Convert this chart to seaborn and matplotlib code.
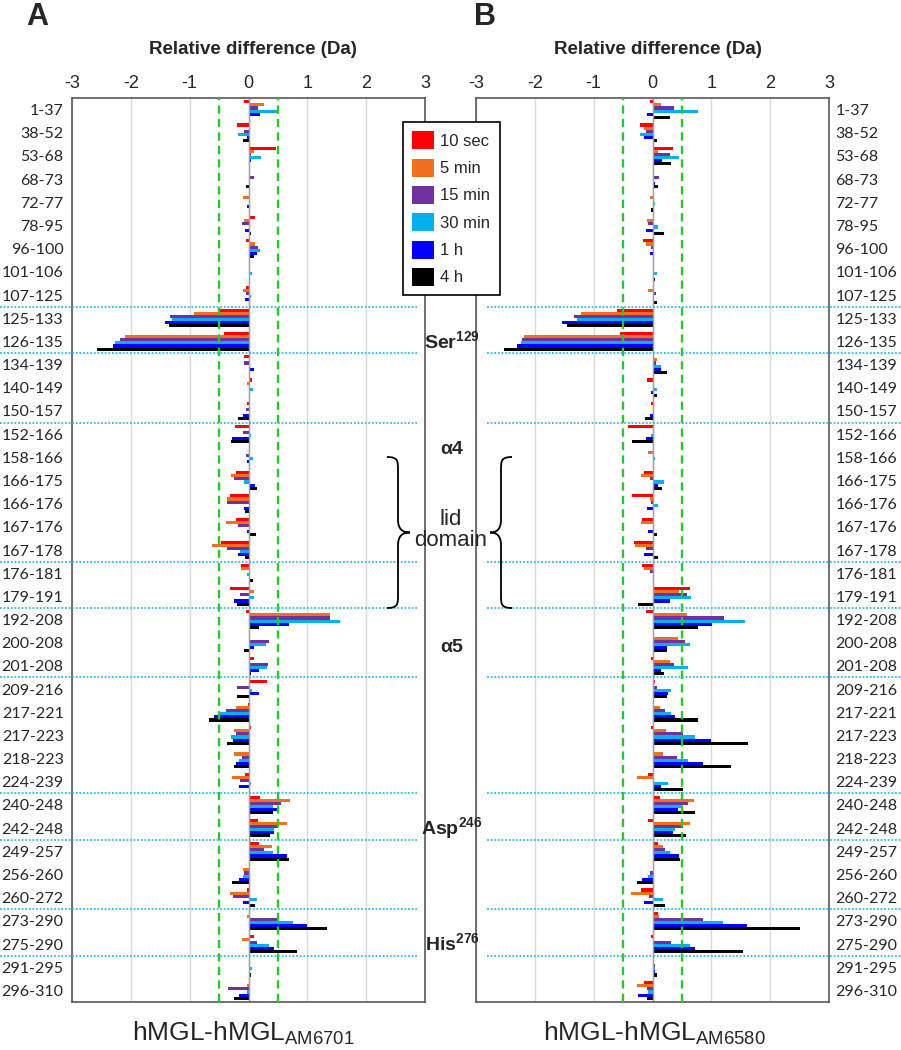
import pandas as pd
import matplotlib
matplotlib.use("Agg")
import matplotlib.pyplot as plt
import matplotlib.transforms as mtransforms
from matplotlib.path import Path
from matplotlib.patches import PathPatch, Patch
import seaborn as sns

# peptides (top to bottom)
peptides = ["1-37", "38-52", "53-68", "68-73", "72-77", "78-95", "96-100",
            "101-106", "107-125", "125-133", "126-135", "134-139", "140-149",
            "150-157", "152-166", "158-166", "166-175", "166-176", "167-176",
            "167-178", "176-181", "179-191", "192-208", "200-208", "201-208",
            "209-216", "217-221", "217-223", "218-223", "224-239", "240-248",
            "242-248", "249-257", "256-260", "260-272", "273-290", "275-290",
            "291-295", "296-310"]
times = ["10 sec", "5 min", "15 min", "30 min", "1 h", "4 h"]
colors = ["#ff0000", "#f07020", "#7030a0", "#00b0f0", "#0000ff", "#000000"]

# rows after which a dotted separator is drawn
separators = [8, 10, 13, 19, 21, 24, 29, 31, 34, 36]

# Panel A: hMGL - hMGL(AM6701)
a_10s = [-0.07, -0.19, 0.47, 0, 0.01, 0.11, -0.05, 0.03, -0.05, -0.49, -0.41,
         -0.07, 0.06, -0.03, -0.23, 0, -0.22, -0.32, -0.22, -0.46, -0.13, -0.32,
         -0.05, 0.03, 0.10, 0.32, -0.01, 0.05, 0, -0.06, 0.19, 0.16, 0.17, 0,
         -0.03, 0, 0.10, 0, 0]
a_5m = [0.27, 0.02, 0.10, 0, -0.10, -0.08, 0.11, 0, -0.10, -0.92, -2.10, 0,
        -0.02, 0, 0.03, 0.01, -0.30, -0.37, -0.39, -0.62, -0.13, 0.09, 1.38, 0,
        0, 0, -0.22, -0.24, -0.25, -0.28, 0.70, 0.66, 0.40, -0.10, -0.31, -0.03,
        -0.11, 0, -0.02]
a_15m = [0.16, -0.07, 0.04, 0.085, 0, -0.11, 0.16, 0, -0.05, -1.33, -2.18,
         -0.07, 0, -0.05, -0.085, -0.04, -0.24, -0.37, -0.18, -0.37, 0, -0.15,
         1.38, 0.35, 0.33, -0.19, -0.39, -0.22, -0.11, -0.14, 0.56, 0.50, 0.26,
         -0.07, -0.27, 0.48, 0.14, 0.03, -0.35]
a_30m = [0.50, -0.17, 0.21, 0, 0, 0, 0.20, 0.06, 0.04, -1.30, -2.27, 0, 0.07,
         0, 0.045, 0.07, -0.07, 0, 0, -0.15, -0.02, 0.10, 1.56, 0.29, 0.32,
         0.06, -0.50, -0.29, -0.16, 0.04, 0.41, 0.43, 0.41, -0.085, 0.14, 0.75,
         0.35, 0.06, -0.03]
a_1h = [0.20, -0.02, 0.05, 0.03, -0.02, -0.06, 0.14, 0.03, -0.06, -1.42, -2.31,
        0.085, 0, -0.09, -0.28, -0.03, 0.11, -0.08, -0.03, -0.17, 0, -0.24, 0.69,
        0.09, 0.18, 0.17, -0.58, -0.27, -0.22, -0.16, 0.48, 0.43, 0.65, -0.16,
        -0.10, 1.00, 0.44, 0.01, -0.16]
a_4h = [0.01, -0.10, 0, -0.05, 0, 0.05, 0.10, 0, 0, -1.35, -2.58, 0, 0, -0.17,
        -0.29, 0, 0.14, -0.06, 0.12, -0.06, 0.07, -0.20, 0.18, -0.07, 0.05,
        -0.19, -0.67, -0.37, -0.24, 0, 0.41, 0.36, 0.69, -0.28, 0.11, 1.33, 0.82,
        0.04, -0.25]

# Panel B: hMGL - hMGL(AM6580)
b_10s = [-0.04, -0.22, 0.34, 0.03, 0, 0, -0.16, 0.01, 0, -0.60, -0.56, 0,
         -0.09, -0.02, -0.42, 0, -0.14, -0.35, -0.18, -0.31, -0.18, 0.63, -0.11,
         0.03, -0.02, 0.05, 0, -0.03, 0.01, -0.07, 0.12, -0.07, 0.085, 0, -0.20,
         0.085, -0.03, 0.02, -0.14]
b_5m = [0.14, -0.15, 0.10, 0, -0.04, -0.10, -0.11, 0.01, -0.08, -1.21, -2.18,
        0.07, 0, 0, 0, -0.07, -0.20, -0.05, -0.20, -0.30, -0.15, 0.45, 0.58,
        0.44, 0.29, 0, 0.13, 0.23, 0.18, -0.26, 0.71, 0.63, 0.18, 0, -0.37, 0.11,
        0, 0, -0.26]
b_15m = [0.37, -0.11, 0.29, 0.11, 0, -0.07, -0.03, 0.03, 0.06, -1.33, -2.22,
         0.06, 0, 0.02, 0, 0, -0.05, -0.03, 0, -0.11, -0.045, 0.59, 1.21, 0.56,
         0.36, 0.07, 0.22, 0.52, 0.41, 0, 0.61, 0.52, 0.22, -0.04, -0.06, 0.86,
         0.32, 0.04, -0.10]
b_30m = [0.78, -0.22, 0.45, 0.03, 0.04, 0.09, 0, 0.07, 0, -1.29, -2.24, 0.14,
         0.08, 0.02, -0.02, 0.05, 0.19, 0.10, 0, 0, 0, 0.66, 1.58, 0.63, 0.61,
         0.31, 0.32, 0.72, 0.61, 0.26, 0.48, 0.39, 0.29, -0.07, 0.18, 1.20, 0.63,
         0.05, -0.07]
b_1h = [-0.09, -0.14, 0.16, 0.05, 0, -0.11, -0.05, 0.02, 0, -1.53, -2.30, 0.15,
        -0.03, -0.05, -0.11, 0.03, 0.09, -0.09, -0.07, -0.15, 0.01, 0.29, 1.01,
        0.25, 0.14, 0.27, 0.39, 1.00, 0.85, 0.14, 0.43, 0.35, 0.45, -0.17, -0.15,
        1.60, 0.73, 0.045, -0.24]
b_4h = [0.30, 0.08, 0.31, 0.085, -0.02, 0.20, 0, 0.05, 0.08, -1.46, -2.53, 0.24,
        0.07, -0.12, -0.34, 0.03, 0.16, 0, 0.07, 0.085, 0, -0.25, 0.77, 0.25,
        0.20, 0.25, 0.78, 1.63, 1.33, 0.52, 0.73, 0.57, 0.47, -0.27, 0.22, 2.50,
        1.53, 0.08, -0.10]

W, H = 901, 1050


def fx(px):
    return px / W


def fy(py):
    return 1 - py / H


def long_table(series):
    rows = []
    for t, vals in zip(times, series):
        for p, v in zip(peptides, vals):
            rows.append({"peptide": p, "time": t, "value": v})
    return pd.DataFrame(rows)


df_a = long_table([a_10s, a_5m, a_15m, a_30m, a_1h, a_4h])
df_b = long_table([b_10s, b_5m, b_15m, b_30m, b_1h, b_4h])

sns.set_style("white")
plt.rcParams["font.family"] = ["Liberation Sans", "DejaVu Sans"]
plt.rcParams["axes.unicode_minus"] = False
plt.rcParams["mathtext.fontset"] = "custom"
plt.rcParams["mathtext.rm"] = "Liberation Sans"
plt.rcParams["mathtext.bf"] = "Liberation Sans:bold"
plt.rcParams["mathtext.it"] = "Liberation Sans:italic"

fig = plt.figure(figsize=(W / 100, H / 100), dpi=100)
ax_a = fig.add_axes([fx(72), fy(1002), fx(425) - fx(72), fy(98) - fy(1002)])
ax_b = fig.add_axes([fx(476), fy(1002), fx(829) - fx(476), fy(98) - fy(1002)])

for ax, df, x0, x1, right in [(ax_a, df_a, 0, 417, False),
                              (ax_b, df_b, 487, W, True)]:
    sns.barplot(data=df, x="value", y="peptide", hue="time", order=peptides,
                hue_order=times, palette=colors, orient="h", errorbar=None,
                width=0.8, saturation=1, linewidth=0, legend=False, ax=ax)
    ax.set_xlim(-3, 3)
    ax.set_ylim(len(peptides) - 0.5, -0.5)
    ax.set_xlabel("")
    ax.set_ylabel("")
    ax.xaxis.tick_top()
    ax.set_xticks(range(-3, 4))
    ax.tick_params(axis="x", length=0, pad=4, labelsize=13)
    ax.tick_params(axis="y", length=0, labelsize=11.5,
                   pad=4.5 if right else 6)
    if right:
        ax.yaxis.tick_right()
    for lbl in ax.get_yticklabels():
        lbl.set_fontfamily("Lato")
    ax.grid(axis="x", color="#d9d9d9", lw=1)
    ax.grid(axis="y", visible=False)
    ax.set_axisbelow(True)
    ax.axvline(0, color="#a0a0a0", lw=1, zorder=1.5)
    for v in (-0.5, 0.5):
        ax.axvline(v, color="#22cc22", lw=1.7, dashes=(3.5, 2.2), zorder=3)
    for sp in ax.spines.values():
        sp.set_color("#595959")
        sp.set_linewidth(1.2)
    tr = mtransforms.blended_transform_factory(fig.transFigure, ax.transData)
    for r in separators:
        ax.plot([fx(x0), fx(x1)], [r + 0.5, r + 0.5], transform=tr,
                color="#33bbee", lw=1.3, ls=(0, (1, 1)), clip_on=False,
                zorder=4)

# titles and labels
for cx in (253, 658):
    fig.text(fx(cx), fy(50), "Relative difference (Da)", ha="center",
             va="center", fontsize=13.5, fontweight="bold")
fig.text(fx(243), fy(1033), r"hMGL-hMGL$_{\mathrm{AM6701}}$", ha="center",
         va="center", fontsize=19)
fig.text(fx(654), fy(1033), r"hMGL-hMGL$_{\mathrm{AM6580}}$", ha="center",
         va="center", fontsize=19)
fig.text(fx(37), fy(17), "A", ha="center", va="center", fontsize=22,
         fontweight="bold")
fig.text(fx(485), fy(17), "B", ha="center", va="center", fontsize=22,
         fontweight="bold")

# region annotations between the panels
notes = [(r"Ser$^{\mathbf{129}}$", 341), (r"$\mathbf{\alpha 4}$", 450),
         (r"$\mathbf{\alpha 5}$", 648), (r"Asp$^{\mathbf{246}}$", 828),
         (r"His$^{\mathbf{276}}$", 943)]
for txt, py in notes:
    fig.text(fx(452), fy(py), txt, ha="center", va="center", fontsize=14,
             fontweight="bold")
fig.text(fx(451), fy(530), "lid\ndomain", ha="center", va="center",
         fontsize=16, linespacing=1.0)


def brace(xa, xm, xt, y0, y1):
    # xa: end of arms, xm: spine, xt: tip
    ym = (y0 + y1) / 2
    k = 13
    pts = [(xa, y0), (xm, y0), (xm, y0 + 4), (xm, y0 + k),
           (xm, ym - k),
           (xm, ym - 3), (xm + (xt - xm) * 0.4, ym), (xt, ym),
           (xm + (xt - xm) * 0.4, ym), (xm, ym + 3), (xm, ym + k),
           (xm, y1 - k),
           (xm, y1 - 4), (xm, y1), (xa, y1)]
    codes = [Path.MOVETO, Path.CURVE4, Path.CURVE4, Path.CURVE4,
             Path.LINETO,
             Path.CURVE4, Path.CURVE4, Path.CURVE4,
             Path.CURVE4, Path.CURVE4, Path.CURVE4,
             Path.LINETO,
             Path.CURVE4, Path.CURVE4, Path.CURVE4]
    path = Path([(fx(x), fy(y)) for x, y in pts], codes)
    fig.add_artist(PathPatch(path, fill=False, lw=1.3, edgecolor="black",
                             transform=fig.transFigure))


brace(387, 398, 410, 457, 608)
brace(512, 501, 490, 457, 608)

handles = [Patch(facecolor=c, edgecolor="none", label=t)
           for t, c in zip(times, colors)]
leg = fig.legend(handles=handles, loc="upper left",
                 bbox_to_anchor=(fx(403), fy(122)), frameon=True,
                 fancybox=False, edgecolor="black", framealpha=1,
                 fontsize=12, handlelength=1.3, handleheight=1.3,
                 handletextpad=0.4, labelspacing=0.55, borderpad=0.55,
                 borderaxespad=0)
leg.get_frame().set_linewidth(1.2)

fig.savefig("out.png", dpi=100)
